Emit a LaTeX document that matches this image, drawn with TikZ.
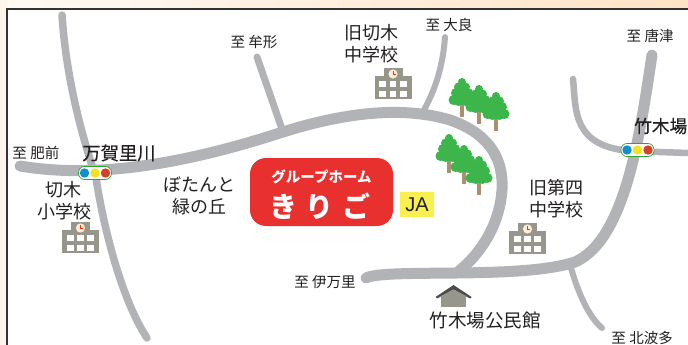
\documentclass[tikz,border=0pt]{standalone}
\usepackage{fontspec}
\setmainfont{Noto Sans CJK JP}
\newfontfamily\latinfont{Liberation Sans}
\newfontfamily\medfont[FakeBold=0.4]{Noto Sans CJK JP}
\definecolor{roadc}{HTML}{B1B3B6}
\definecolor{schoolc}{HTML}{96968A}
\definecolor{treec}{HTML}{3CB54A}
\definecolor{trunkc}{HTML}{A8926E}
\definecolor{redc}{HTML}{E8312F}
\definecolor{yelc}{HTML}{F8F050}
\definecolor{txtc}{HTML}{231F20}
\definecolor{lblue}{HTML}{1090CE}
\definecolor{lyel}{HTML}{F5E120}
\definecolor{lred}{HTML}{D5402A}
\newcommand{\dest}[1]{至\hspace{3.5pt}#1}
\tikzset{
  x=1pt,y=-1pt,
  road/.style={draw=roadc,line cap=round,line join=round},
  lbl/.style={font=\fontsize{14.5}{14.5}\selectfont,text=txtc,inner sep=0pt,anchor=center},
  big/.style={font=\fontsize{18}{22}\selectfont,text=txtc,inner sep=0pt,align=center,anchor=center},
  school/.pic={
    \fill[schoolc] (-18.5,-23) rectangle (18.5,0);
    \fill[schoolc] (-9.5,-31) rectangle (9.5,-20);
    \foreach \i in {-10.2,0,10.2}{\foreach \j in {-18.3,-8.3}{\fill[white] (\i-3.4,\j) rectangle (\i+3.4,\j+6.7);}}
    \fill[white!85!orange] (0,-25) circle[radius=4.6pt];
    \draw[red!60!orange,line width=.4pt] (0,-28) -- (0,-25) -- (2.5,-25);
  },
  tree/.pic={
    \fill[trunkc] (-2.2,-14) rectangle (2.2,0);
    \fill[treec] (0,-39) -- (-6,-28) -- (-11,-15) -- (11,-15) -- (6,-28) -- cycle;
    \foreach \a/\b/\r in {0/-35/4,-3.5/-30/4.5,3.5/-30/4.5,-6/-24/5,6/-24/5,-8.5/-17/5,8.5/-17/5,-3.5/-16/5,3.5/-16/5,0/-22/7}{\fill[treec] (\a,\b) circle[radius=\r pt];}
  },
  tlight/.pic={
    \draw[green!55!black!80,fill=white,line width=.7pt,rounded corners=6pt] (-16.5,-6.5) rectangle (16.5,6.5);
    \fill[lblue] (-10.5,0) circle[radius=4.7pt];
    \fill[lyel] (0,0) circle[radius=4.7pt];
    \fill[lred] (10.5,0) circle[radius=4.7pt];
  }
}
\begin{document}
\begin{tikzpicture}
\useasboundingbox (0,0) rectangle (688,345);
\fill[white] (0,0) rectangle (688,345);
\shade[left color=white!90!orange!40,right color=orange!22!white] (0,0) rectangle (688,9);
\fill[orange!8!white] (0,0) rectangle (7,345);
\draw[black!80,line width=1.3pt] (7,345) -- (7,9) -- (688,9);
% roads
\draw[road,line width=7.5] (62,15) .. controls (66,75) and (80,130) .. (96,178) .. controls (104,230) and (122,300) .. (147,338);
\draw[road,line width=7] (257,57) -- (283,132);
\draw[road,line width=6] (445,37) .. controls (443,65) and (436,88) .. (424,110);
\draw[road,line width=6.5] (573,79) .. controls (576,110) and (572,146) .. (630,151) -- (688,153);
\draw[road,line width=6] (571,268) .. controls (578,292) and (588,316) .. (602,328);
\draw[road,line width=11] (20,166) .. controls (80,176) and (160,172) .. (283,132) .. controls (340,114) and (400,105) .. (450,120) .. controls (485,132) and (504,155) .. (502,190) .. controls (500,220) and (485,250) .. (458,272);
\draw[road,line width=11] (366,278) .. controls (385,268) and (520,280) .. (575,262) .. controls (625,240) and (640,135) .. (652,55);
% traffic lights
\pic at (95,173) {tlight};
\pic at (637.5,150) {tlight};
% trees
\foreach \p in {(462,117),(479,124),(496,131),(449,173),(464,184),(479,195)}{\pic at \p {tree};}
% schools
\pic at (80.5,253) {school};
\pic at (393,99) {school};
\pic at (527.5,254) {school};
% community house
\fill[schoolc] (441,295) rectangle (466,307);
\fill[black!70] (453.5,285) -- (471.5,297) -- (470,298.5) -- (453.5,289.5) -- (437,298.5) -- (435.5,297) -- cycle;
\fill[schoolc] (453.5,289.5) -- (466,296) -- (441,296) -- cycle;
% labels
\node[lbl] (himae) at (36,153) {\dest{肥前}};
\node[big,font=\medfont\fontsize{18.3}{18.3}\selectfont] (magari) at (119,153) {万賀里川};
\node[big] (kiriki) at (64,201) {切木\\小学校};
\node[big] (botan) at (199,196) {ぼたんと\\緑の丘};
\node[lbl] (mukata) at (254,42) {\dest{牟形}};
\node[big] (oldk) at (371,44) {旧切木\\中学校};
\node[lbl] (taira) at (449,25) {\dest{大良}};
\node[lbl] (karatsu) at (650,36) {\dest{唐津}};
\node[big,font=\medfont\fontsize{17.7}{17.7}\selectfont,anchor=west] (takeki) at (634,126) {竹木場};
\node[big] (oldd) at (556,199) {旧第四\\中学校};
\node[lbl] (imari) at (325,282) {\dest{伊万里}};
\node[big,font=\fontsize{18.5}{18.5}\selectfont] (koumin) at (485,321) {竹木場公民館};
\node[lbl] (kitahata) at (642,338) {\dest{北波多}};
% sign
\node[fill=redc,rounded corners=16pt,minimum width=143pt,minimum height=68pt,inner sep=0pt] (sign) at (321.5,192) {};
\node[text=white,inner sep=0pt,font=\fontsize{14.5}{14.5}\selectfont\bfseries] (s1) at (321.5,177) {グループホーム};
\node[text=white,inner sep=0pt,font=\fontsize{28}{28}\selectfont\bfseries] (s2) at (320,206) {き\hspace{9pt}り\hspace{9pt}ご};
\node[fill=yelc,minimum width=34pt,minimum height=25pt,inner sep=0pt,text=txtc,font=\latinfont\fontsize{20}{20}\selectfont] (ja) at (417,204.5) {JA};
\end{tikzpicture}
\end{document}
